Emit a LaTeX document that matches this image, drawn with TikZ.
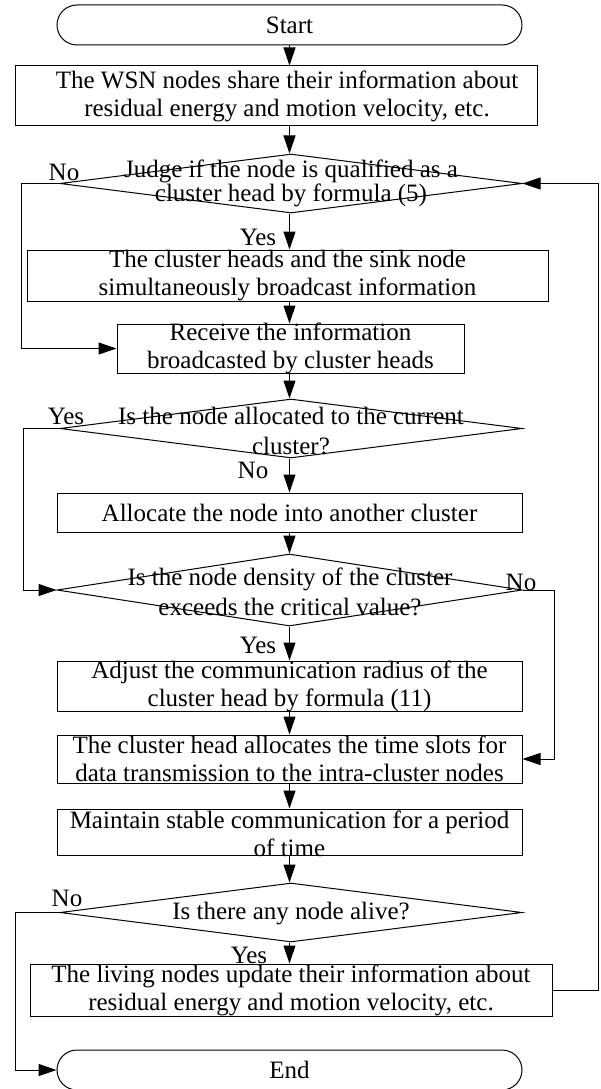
\documentclass[tikz,border=0pt]{standalone}
\usepackage{fontspec}
\setmainfont{Liberation Serif}
\usetikzlibrary{shapes.geometric,arrows.meta}
\begin{document}
\begin{tikzpicture}[x=1pt,y=-1pt,line width=1pt,
  every node/.style={font=\fontsize{25}{28}\selectfont},
  box/.style={draw,rectangle,inner sep=0pt},
  term/.style={draw,rectangle,rounded corners=20pt,inner sep=0pt,minimum width=465pt,minimum height=40pt},
  dia/.style={draw,diamond,inner sep=0pt},
  txt/.style={align=center,inner sep=0pt},
  lbl/.style={inner sep=0pt},
  arr/.style={-{Triangle[length=18pt,width=12pt]}}]
\useasboundingbox (0,0) rectangle (601,1089);
% nodes
\node[term] (start) at (289.5,25) {Start};
\node[box,minimum width=522pt,minimum height=60pt] (b1) at (276,96) {};
\node[txt] (b1t) at (287,96) {The WSN nodes share their information about\\residual energy and motion velocity, etc.};
\node[dia,minimum width=462pt,minimum height=59pt] (d1) at (291,183.5) {};
\node[txt,font=\fontsize{25}{22}\selectfont] (d1t) at (291,183) {Judge if the node is qualified as a\\cluster head by formula (5)};
\node[box,minimum width=521pt,minimum height=51pt] (b2) at (287.5,275.5) {};
\node[txt] (b2t) at (b2) {The cluster heads and the sink node\\simultaneously broadcast information};
\node[box,minimum width=347pt,minimum height=49pt] (b3) at (290.5,348.5) {};
\node[txt] (b3t) at (b3) {Receive the information\\broadcasted by cluster heads};
\node[dia,minimum width=462pt,minimum height=59pt] (d2) at (291,428.5) {};
\node[txt,font=\fontsize{25}{30}\selectfont] (d2t) at (291,431) {Is the node allocated to the current\\cluster?};
\node[box,minimum width=465pt,minimum height=39pt] (b4) at (289.5,512.5) {Allocate the node into another cluster};
\node[dia,minimum width=465pt,minimum height=72pt] (d3) at (289.5,590) {};
\node[txt,font=\fontsize{25}{30}\selectfont] (d3t) at (290,592) {Is the node density of the cluster\\exceeds the critical value?};
\node[box,minimum width=465pt,minimum height=50pt] (b5) at (289.5,686) {};
\node[txt] (b5t) at (b5) {Adjust the communication radius of the\\cluster head by formula (11)};
\node[box,minimum width=465pt,minimum height=48pt] (b6) at (289.5,759) {};
\node[txt] (b6t) at (b6) {The cluster head allocates the time slots for\\data transmission to the intra-cluster nodes};
\node[box,minimum width=465pt,minimum height=46pt] (b7) at (289.5,832) {};
\node[txt] (b7t) at (289.5,834) {Maintain stable communication for a period\\of time};
\node[dia,minimum width=462pt,minimum height=59pt] (d4) at (291,912.5) {};
\node[txt] (d4t) at (291,914) {Is there any node alive?};
\node[box,minimum width=522pt,minimum height=52pt] (b8) at (291,990) {};
\node[txt] (b8t) at (b8) {The living nodes update their information about\\residual energy and motion velocity, etc.};
\node[term] (end) at (289.5,1070) {End};
% labels
\node[lbl] (l1) at (64,172) {No};
\node[lbl] (l2) at (258,237) {Yes};
\node[lbl] (l3) at (66,416) {Yes};
\node[lbl] (l4) at (253,470) {No};
\node[lbl] (l5) at (521,582) {No};
\node[lbl] (l6) at (258,645) {Yes};
\node[lbl] (l7) at (67,898) {No};
\node[lbl] (l8) at (249,955) {Yes};
% turning points
\coordinate (c1) at (21,0);
\coordinate (c2) at (23,0);
\coordinate (c3) at (554,0);
\coordinate (c4) at (15,0);
\coordinate (c5) at (598,0);
% straight arrows
\draw[arr] (start.south) -- (start.south |- b1.north);
\draw[arr] (start |- b1.south) -- (start |- d1.north);
\draw[arr] (start |- d1.south) -- (start |- b2.north);
\draw[arr] (start |- b2.south) -- (start |- b3.north);
\draw[arr] (start |- b3.south) -- (start |- d2.north);
\draw[arr] (start |- d2.south) -- (start |- b4.north);
\draw[arr] (start |- b4.south) -- (start |- d3.north);
\draw[arr] (start |- d3.south) -- (start |- b5.north);
\draw[arr] (start |- b5.south) -- (start |- b6.north);
\draw[arr] (start |- b6.south) -- (start |- b7.north);
\draw[arr] (start |- b7.south) -- (start |- d4.north);
\draw[arr] (start |- d4.south) -- (start |- b8.north);
% loops
\draw[arr] (d1.west) -- (c1 |- d1.west) -- (c1 |- b3.west) -- (b3.west);
\draw[arr] (d2.west) -- (c2 |- d2.west) -- (c2 |- d3.west) -- (d3.west);
\draw[arr] (d3.east) -- (c3 |- d3.east) -- (c3 |- b6.east) -- (b6.east);
\draw[arr] (d4.west) -- (c4 |- d4.west) -- (c4 |- end.west) -- (end.west);
\draw[arr] (b8.east) -- (c5 |- b8.east) -- (c5 |- d1.east) -- (d1.east);
\end{tikzpicture}
\end{document}
